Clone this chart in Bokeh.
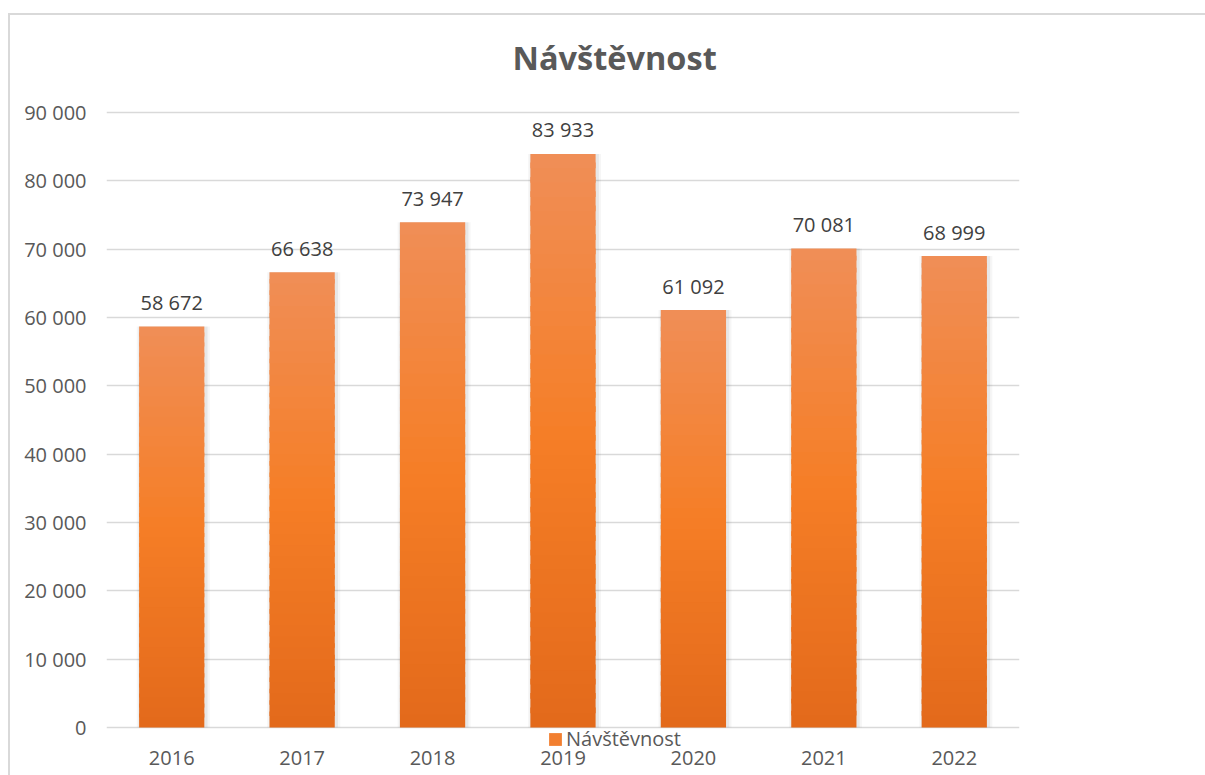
from bokeh.plotting import figure
from bokeh.models import (ColumnDataSource, FixedTicker, Legend, LegendItem, Range1d)
from bokeh.transform import dodge
from bokeh.core.properties import value
from bokeh.embed import file_html
from bokeh.resources import INLINE

# ---- data ----
years = ["2016", "2017", "2018", "2019", "2020", "2021", "2022"]
visits = [58672, 66638, 73947, 83933, 61092, 70081, 68999]
ytick_values = [0, 10000, 20000, 30000, 40000, 50000, 60000, 70000, 80000, 90000]
ytick_labels = ["0", "10 000", "20 000", "30 000", "40 000", "50 000",
                "60 000", "70 000", "80 000", "90 000"]
series_name = "Návštěvnost"
chart_title = "Návštěvnost"

value_labels = [f"{v:,}".replace(",", " ") for v in visits]

FONT = "Open Sans"
GRAY = "#595959"

p = figure(x_range=years, y_range=Range1d(-3805, 91024),
           width=1205, height=775, output_backend="svg", toolbar_location=None,
           min_border_left=106, min_border_right=186, min_border_top=105,
           min_border_bottom=22)
p.styles = {
    "background-color": "white",
    "background-image": "linear-gradient(#D9D9D9,#D9D9D9), linear-gradient(#D9D9D9,#D9D9D9)",
    "background-position": "8px 13px, 8px 13px",
    "background-size": "2px 100%, 100% 2px",
    "background-repeat": "no-repeat",
}
p.outline_line_color = None
p.background_fill_color = "white"
p.border_fill_color = None

# title
p.title.text = chart_title
p.title.align = "left"
p.title.offset = 406
p.title.standoff = 52
p.title.text_font = FONT
p.title.text_font_size = "32.5px"
p.title.text_font_style = "bold"
p.title.text_color = GRAY

# grid / axes
ticker = FixedTicker(ticks=ytick_values)
p.yaxis.ticker = ticker
p.ygrid.ticker = ticker
p.ygrid.grid_line_color = "#D9D9D9"
p.ygrid.grid_line_width = 1.6
p.xgrid.grid_line_color = None
p.yaxis.major_label_overrides = {t: l for t, l in zip(ytick_values, ytick_labels)}
for ax in (p.xaxis[0], p.yaxis[0]):
    ax.axis_line_color = None
    ax.major_tick_line_color = None
    ax.minor_tick_line_color = None
    ax.major_tick_out = 0
    ax.major_tick_in = 0
    ax.major_label_text_font = FONT
    ax.major_label_text_font_size = "20px"
    ax.major_label_text_color = GRAY
p.yaxis.major_label_standoff = 20
p.xaxis.major_label_standoff = -3

# shadows
src = ColumnDataSource(dict(year=years, visits=visits, label=value_labels))
p.vbar(x=dodge("year", 0.012, range=p.x_range), top="visits", width=0.56,
       source=src, fill_color="black", fill_alpha=0.035, line_color=None)
p.vbar(x=dodge("year", 0.01, range=p.x_range), top="visits", width=0.53,
       source=src, fill_color="black", fill_alpha=0.06, line_color=None)

# gradient bars built from the values
def lerp(c1, c2, t):
    return tuple(round(a + (b - a) * t) for a, b in zip(c1, c2))

bottom_c, mid_c, top_c = (227, 105, 27), (245, 126, 38), (240, 142, 87)

def grad(f):
    if f < 0.5:
        c = lerp(bottom_c, mid_c, f / 0.5)
    else:
        c = lerp(mid_c, top_c, (f - 0.5) / 0.5)
    return "#%02x%02x%02x" % c

N = 40
seg = dict(x=[], bottom=[], top=[], color=[])
for y, v in zip(years, visits):
    for k in range(N):
        seg["x"].append(y)
        seg["bottom"].append(v * k / N)
        seg["top"].append(v * (k + 1) / N + (v * 0.4 / N if k < N - 1 else 0))
        seg["color"].append(grad((k + 0.5) / N))
p.vbar(x="x", bottom="bottom", top="top", width=0.5, fill_color="color",
       line_color=None, source=ColumnDataSource(seg))

# data labels
p.text(x="year", y="visits", text="label", source=src, text_align="center",
       text_baseline="alphabetic", y_offset=-24, text_font=value(FONT),
       text_font_size="20px", text_color="#404040")

# legend (zero-height bar used only as legend swatch)
r_leg = p.vbar(x=years[:1], bottom=[0], top=[0], width=0.5,
               fill_color="#F27F30", line_color=None)
legend = Legend(items=[LegendItem(label=series_name, renderers=[r_leg])],
                location=(441, 1), orientation="horizontal",
                border_line_color=None, background_fill_alpha=0,
                padding=0, margin=0, glyph_width=16, glyph_height=16,
                label_height=14, label_standoff=3,
                label_text_font=FONT, label_text_font_size="20px",
                label_text_color=GRAY)
p.add_layout(legend)

open("out.html", "w").write(file_html(p, INLINE))
